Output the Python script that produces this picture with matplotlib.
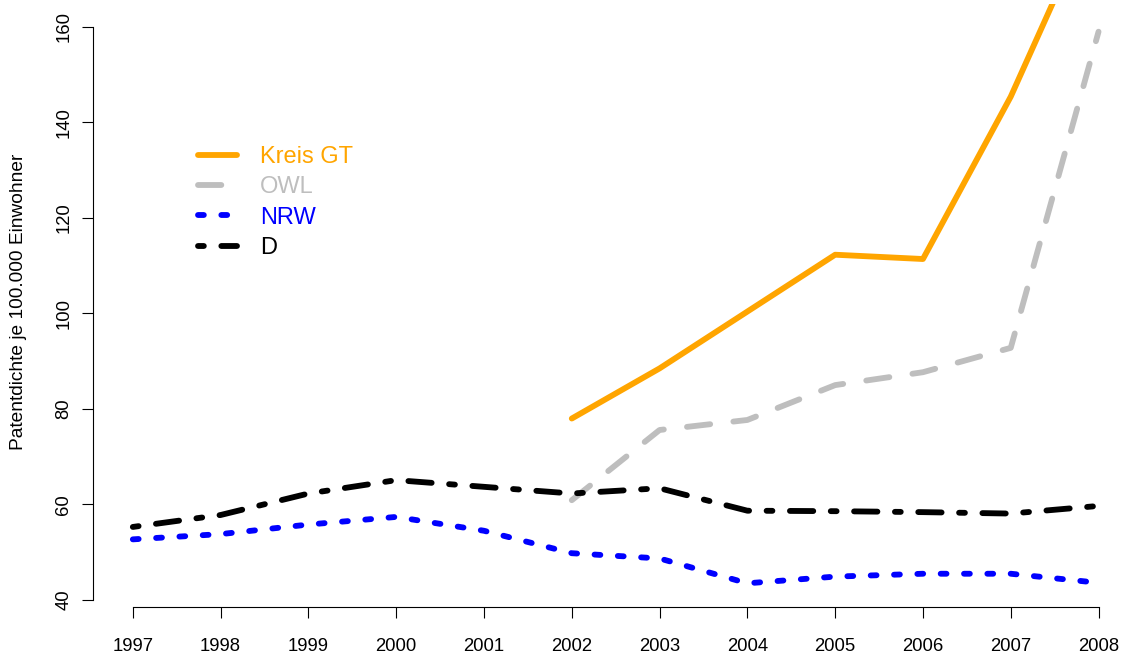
import numpy as np
import matplotlib
matplotlib.use("Agg")
import matplotlib.pyplot as plt

# Patentdichte je 100.000 Einwohner, 1997-2008
years = list(range(1997, 2009))
kreis_gt = [np.nan, np.nan, np.nan, np.nan, np.nan,
            78.0, 88.5, 100.4, 112.3, 111.4, 145.4, 186.3]
owl = [np.nan, np.nan, np.nan, np.nan, np.nan,
       60.9, 75.6, 77.7, 85.0, 87.7, 92.8, 159.0]
nrw = [52.7, 53.8, 55.8, 57.4, 54.5, 49.8, 48.7, 43.5, 44.9, 45.5, 45.5, 43.6]
d = [55.3, 57.8, 62.3, 65.1, 63.7, 62.3, 63.4, 58.7, 58.6, 58.4, 58.1, 59.7]

series_names = ["Kreis GT", "OWL", "NRW", "D"]
yticks = [40, 60, 80, 100, 120, 140, 160]

plt.rcParams['font.family'] = ['Liberation Sans', 'DejaVu Sans']

fig = plt.figure(figsize=(11.23, 6.55), dpi=100)
ax = fig.add_axes([0.0831, 0.0728, 0.9303, 0.9211])

lw = 4.2
common = dict(lw=lw, solid_capstyle='round', solid_joinstyle='round',
              dash_capstyle='round', dash_joinstyle='round')
ax.plot(years, kreis_gt, color='#FFA500', linestyle='-', label=series_names[0], **common)
ax.plot(years, owl, color='#BEBEBE', linestyle=(0, (4, 4)), label=series_names[1], **common)
ax.plot(years, nrw, color='#0000FF', linestyle=(0, (1, 3)), label=series_names[2], **common)
ax.plot(years, d, color='black', linestyle=(0, (1, 3, 4, 3)), label=series_names[3], **common)

ax.set_xlim(1996.55, 2008.45)
ax.set_ylim(38.47, 164.8)
ax.set_xticks(years)
ax.set_yticks(yticks)

for s in ['top', 'right']:
    ax.spines[s].set_visible(False)
ax.spines['left'].set_bounds(40, 160)
ax.spines['bottom'].set_bounds(1997, 2008)
for s in ['left', 'bottom']:
    ax.spines[s].set_linewidth(0.8)

ax.tick_params(direction='out', length=8, width=0.8, labelsize=13.3)
ax.tick_params(axis='x', pad=14)
ax.tick_params(axis='y', pad=7)
for lab in ax.get_yticklabels():
    lab.set_rotation(90)
    lab.set_va('center')

fig.text(19 / 1123, 1 - 301.5 / 655, 'Patentdichte je 100.000 Einwohner',
         rotation=90, ha='center', va='center', fontsize=13.8)

ax.legend(loc='upper left', bbox_to_anchor=(198 / 1123, 1 - 146 / 655),
          bbox_transform=fig.transFigure, frameon=False, fontsize=17,
          handlelength=1.65, handletextpad=0.97, labelspacing=0.35,
          borderpad=0, borderaxespad=0, labelcolor='linecolor')

fig.savefig('out.png', dpi=100)
